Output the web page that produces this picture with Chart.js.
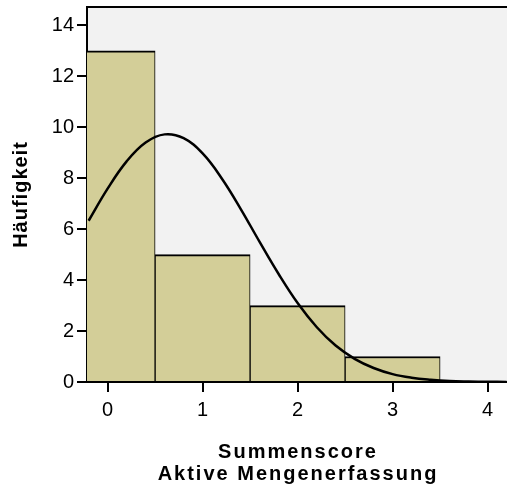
<!DOCTYPE html>
<html>
<head>
<meta charset="utf-8">
<script src="https://cdn.jsdelivr.net/npm/chart.js@4/dist/chart.umd.min.js"></script>
<style>
  html, body { margin: 0; padding: 0; background: #fff; }
  #wrap { width: 507px; height: 488px; }
</style>
</head>
<body>
<div id="wrap"><canvas id="hist"></canvas></div>
<script>
// histogram of the score (bin centres and counts)
const binCenters = [0, 1, 2, 3];
const counts     = [13, 5, 3, 1];

const curveX = [-0.2, 0, 0.2, 0.4, 0.6, 0.8, 1.0, 1.2, 1.4, 1.6, 1.8, 2.0,
                2.2, 2.4, 2.6, 2.8, 3.0, 3.2, 3.4, 3.6, 3.8, 4.0, 4.2];
const curveY = [6.33, 7.59, 8.66, 9.40, 9.72, 9.57, 8.97, 8.00, 6.80, 5.50, 4.24, 3.10,
                2.16, 1.43, 0.91, 0.55, 0.31, 0.17, 0.09, 0.04, 0.02, 0.01, 0.00];

const xTitle = ['Summenscore', 'Aktive Mengenerfassung'];
const yTitle = 'Häufigkeit';

const FONT = '"Liberation Sans", Arial, sans-serif';

const frame = {
  id: 'frame',
  beforeDraw(chart) {
    const { ctx, chartArea: a } = chart;
    ctx.save();
    ctx.fillStyle = '#ffffff';
    ctx.fillRect(0, 0, chart.width, chart.height);
    ctx.fillStyle = '#f2f2f2';
    ctx.fillRect(a.left, a.top, a.right - a.left, a.bottom - a.top);
    ctx.restore();
  },
  afterDraw(chart) {
    const { ctx, chartArea: a } = chart;
    ctx.save();
    // top edge of the plot frame
    ctx.strokeStyle = '#000';
    ctx.lineWidth = 2;
    ctx.beginPath();
    ctx.moveTo(a.left, a.top);
    ctx.lineTo(a.right, a.top);
    ctx.stroke();

    // axis titles, bold with a little tracking
    ctx.fillStyle = '#000';
    ctx.font = 'bold 20px ' + FONT;
    ctx.textAlign = 'center';
    ctx.textBaseline = 'alphabetic';
    ctx.letterSpacing = '2px';
    const cx = (a.left + a.right) / 2 + 1;
    ctx.fillText(xTitle[0], cx, 458);
    ctx.fillText(xTitle[1], cx, 480);

    ctx.letterSpacing = '1px';
    ctx.translate(27, (a.top + a.bottom) / 2);
    ctx.rotate(-Math.PI / 2);
    ctx.fillText(yTitle, 0, 0);
    ctx.restore();
  }
};

const ctx = document.getElementById('hist').getContext('2d');
new Chart(ctx, {
  type: 'bar',
  data: {
    datasets: [
      {
        type: 'line',
        data: curveX.map((x, i) => ({ x, y: curveY[i] })),
        borderColor: '#000',
        borderWidth: 2.5,
        pointRadius: 0,
        tension: 0.4,
        fill: false,
        order: 0
      },
      {
        type: 'bar',
        data: binCenters.map((x, i) => ({ x, y: counts[i] })),
        backgroundColor: '#d3ce98',
        borderColor: '#000',
        borderWidth: { top: 2, left: 1, right: 1, bottom: 0 },
        borderSkipped: false,
        barPercentage: 1,
        categoryPercentage: 1,
        order: 1
      }
    ]
  },
  options: {
    responsive: true,
    maintainAspectRatio: false,
    animation: false,
    layout: { padding: { top: 7, right: 0, left: 0, bottom: 0 } },
    plugins: {
      legend: { display: false },
      tooltip: { enabled: false }
    },
    scales: {
      x: {
        type: 'linear',
        offset: false,
        min: -0.217,
        max: 4.204,
        afterFit: s => { s.height = 106; s.paddingLeft = 0; s.paddingRight = 0; },
        ticks: {
          stepSize: 1,
          includeBounds: false,
          color: '#000',
          padding: 6,
          font: { family: FONT, size: 20 }
        },
        grid: {
          offset: false,
          drawOnChartArea: false,
          drawTicks: true,
          tickLength: 10,
          color: '#000',
          lineWidth: 2
        },
        border: { display: true, color: '#000', width: 2 }
      },
      y: {
        min: 0,
        max: 14.72,
        afterFit: s => { s.width = 87; s.paddingTop = 0; s.paddingBottom = 0; },
        ticks: {
          stepSize: 2,
          includeBounds: false,
          color: '#000',
          padding: 3,
          font: { family: FONT, size: 20 }
        },
        grid: {
          drawOnChartArea: false,
          drawTicks: true,
          tickLength: 10,
          color: '#000',
          lineWidth: 2
        },
        border: { display: true, color: '#000', width: 2 }
      }
    }
  },
  plugins: [frame]
});
</script>
</body>
</html>
